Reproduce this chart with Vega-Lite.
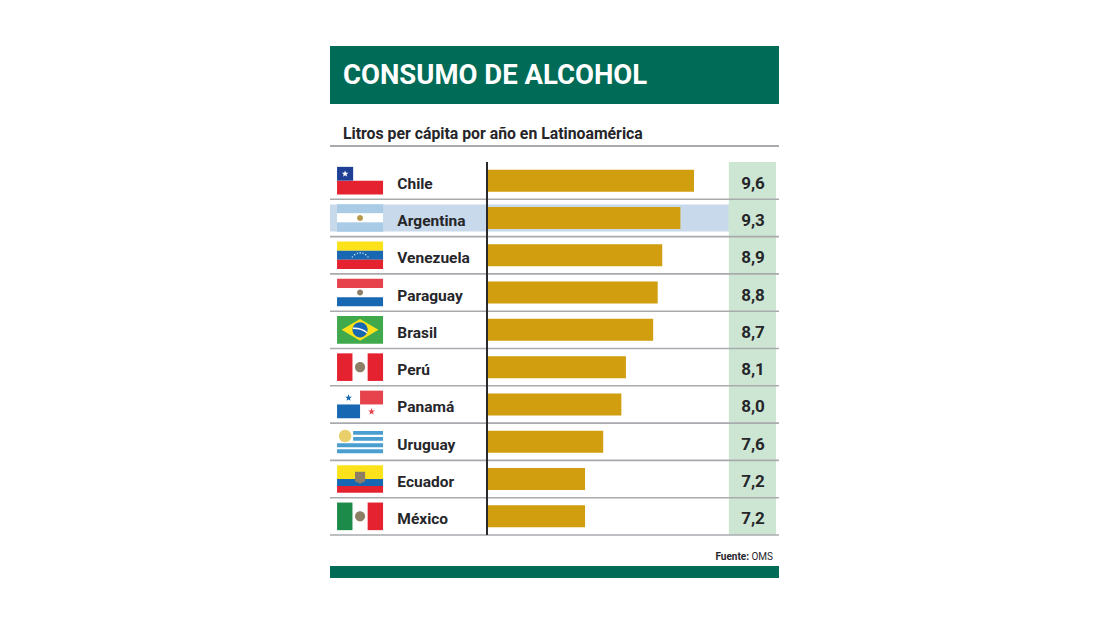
{
"$schema":"https://vega.github.io/schema/vega-lite/v6.json",
"background":"white",
"padding":{"left":329,"top":46,"right":0,"bottom":0},
"bounds":"flush",
"spacing":0,
"config":{"view":{"stroke":null},"concat":{"spacing":0}},
"datasets":{
"paises":[
{"country":"Chile","value":9.6,"label":"9,6"},
{"country":"Argentina","value":9.3,"label":"9,3"},
{"country":"Venezuela","value":8.9,"label":"8,9"},
{"country":"Paraguay","value":8.8,"label":"8,8"},
{"country":"Brasil","value":8.7,"label":"8,7"},
{"country":"Perú","value":8.1,"label":"8,1"},
{"country":"Panamá","value":8.0,"label":"8,0"},
{"country":"Uruguay","value":7.6,"label":"7,6"},
{"country":"Ecuador","value":7.2,"label":"7,2"},
{"country":"México","value":7.2,"label":"7,2"}],
"banderas":[
{"country":"Chile","part":"completa","tone":"blanco"},
{"country":"Chile","part":"mitad_inf","tone":"rojo"},
{"country":"Chile","part":"canton","tone":"azul_oscuro"},
{"country":"Chile","part":"estrella_chile","tone":"blanco"},
{"country":"Argentina","part":"tercio_sup","tone":"celeste"},
{"country":"Argentina","part":"tercio_med","tone":"blanco"},
{"country":"Argentina","part":"tercio_inf","tone":"celeste"},
{"country":"Argentina","part":"sol","tone":"oro"},
{"country":"Venezuela","part":"tercio_sup","tone":"amarillo"},
{"country":"Venezuela","part":"tercio_med","tone":"azul"},
{"country":"Venezuela","part":"tercio_inf","tone":"rojo"},
{"country":"Venezuela","part":"arco_estrellas","tone":"blanco"},
{"country":"Paraguay","part":"tercio_sup","tone":"rojo_claro"},
{"country":"Paraguay","part":"tercio_med","tone":"blanco"},
{"country":"Paraguay","part":"tercio_inf","tone":"azul"},
{"country":"Paraguay","part":"sol","tone":"gris_emblema"},
{"country":"Brasil","part":"completa","tone":"verde_claro"},
{"country":"Brasil","part":"rombo","tone":"amarillo"},
{"country":"Brasil","part":"globo","tone":"azul"},
{"country":"Brasil","part":"banda","tone":"blanco"},
{"country":"Perú","part":"completa","tone":"blanco"},
{"country":"Perú","part":"tercio_izq","tone":"rojo"},
{"country":"Perú","part":"tercio_der","tone":"rojo"},
{"country":"Perú","part":"emblema","tone":"gris_emblema"},
{"country":"Panamá","part":"completa","tone":"blanco"},
{"country":"Panamá","part":"cuad_der_sup","tone":"rojo_claro"},
{"country":"Panamá","part":"cuad_izq_inf","tone":"azul"},
{"country":"Panamá","part":"estrella_a","tone":"azul"},
{"country":"Panamá","part":"estrella_b","tone":"rojo_claro"},
{"country":"Uruguay","part":"completa","tone":"blanco"},
{"country":"Uruguay","part":"franjas","tone":"azul_uruguay"},
{"country":"Uruguay","part":"sol_uruguay","tone":"oro_claro"},
{"country":"Ecuador","part":"mitad_sup","tone":"amarillo"},
{"country":"Ecuador","part":"cuarto_tres","tone":"azul"},
{"country":"Ecuador","part":"cuarto_cuatro","tone":"rojo"},
{"country":"Ecuador","part":"escudo","tone":"gris_emblema"},
{"country":"México","part":"completa","tone":"blanco"},
{"country":"México","part":"tercio_izq","tone":"verde"},
{"country":"México","part":"tercio_der","tone":"rojo"},
{"country":"México","part":"emblema","tone":"gris_emblema"}]
},
"vconcat":[
{"width":449,"height":58,
 "data":{"values":[{"titulo":"CONSUMO DE ALCOHOL"}]},
 "layer":[
 {"mark":{"type":"rect","color":"#006b57"},"encoding":{"x":{"datum":0,"type":"quantitative","scale":{"domain":[0,1]},"axis":null},"x2":{"datum":1},"y":{"datum":0,"type":"quantitative","scale":{"domain":[0,1]},"axis":null},"y2":{"datum":1}}},
 {"mark":{"type":"text","align":"left","baseline":"middle","dx":13,"font":"Roboto","fontWeight":"bold","fontSize":27.5,"color":"white"},
  "encoding":{"x":{"datum":0,"type":"quantitative"},"y":{"datum":0.49,"type":"quantitative"},"text":{"field":"titulo"}}}
 ]},
{"width":449,"height":58,
 "data":{"values":[{"sub":"Litros per cápita por año en Latinoamérica"}]},
 "layer":[
 {"mark":{"type":"text","align":"left","baseline":"middle","dx":13,"font":"Roboto","fontWeight":"bold","fontSize":15.8,"color":"#26262a"},
  "encoding":{"x":{"datum":0,"type":"quantitative","scale":{"domain":[0,1]},"axis":null},"y":{"datum":0.517,"type":"quantitative","scale":{"domain":[1,0]},"axis":null},"text":{"field":"sub"}}},
 {"mark":{"type":"rule","color":"#a9aaae","strokeWidth":2},
  "encoding":{"y":{"datum":0.724,"type":"quantitative"}}}
 ]},
{"width":449,"height":373,
 "data":{"name":"paises"},
 "encoding":{"y":{"field":"country","type":"nominal","axis":null,"scale":{"type":"band","paddingInner":0,"paddingOuter":0,"domain":["Chile","Argentina","Venezuela","Paraguay","Brasil","Perú","Panamá","Uruguay","Ecuador","México"]}}},
 "layer":[
 {"transform":[{"filter":"datum.country==='Argentina'"}],
  "mark":{"type":"bar","size":27,"color":"#c7d9ea"},
  "encoding":{"x":{"datum":1.582,"type":"quantitative","axis":null,"scale":{"domain":[1.582,11.472],"nice":false,"zero":false}},"x2":{"datum":10.37}}},
 {"mark":{"type":"rect","color":"#cde6d3"},
  "encoding":{"y":null,"x":{"datum":10.37,"type":"quantitative"},"x2":{"datum":11.405}}},
 {"mark":{"type":"rule","color":"#a9aaae","strokeWidth":1.6},
  "encoding":{"y":{"field":"country","type":"nominal","bandPosition":1}}},
 {"mark":{"type":"bar","size":22,"color":"#d09e0e"},
  "encoding":{"x":{"field":"value","type":"quantitative"},"x2":{"datum":5.04}}},
 {"mark":{"type":"rule","color":"#2a2a2e","strokeWidth":1.6},
  "encoding":{"y":null,"x":{"datum":5.04,"type":"quantitative"}}},
 {"data":{"name":"banderas"},
  "mark":{"type":"point","filled":true,"opacity":1,"size":2116,"strokeWidth":0},
  "encoding":{"x":{"datum":2.244,"type":"quantitative"},
   "shape":{"field":"part","type":"nominal","legend":null,"scale":{
    "domain":["completa","mitad_sup","mitad_inf","tercio_sup","tercio_med","tercio_inf","tercio_izq","tercio_der","canton","estrella_chile","sol","emblema","arco_estrellas","rombo","globo","banda","cuad_der_sup","cuad_izq_inf","estrella_a","estrella_b","franjas","sol_uruguay","cuarto_tres","cuarto_cuatro","escudo"],
    "range":["M-1,-0.6H1V0.6H-1Z","M-1,-0.6H1V0H-1Z","M-1,0H1V0.6H-1Z","M-1,-0.6H1V-0.2H-1Z","M-1,-0.2H1V0.2H-1Z","M-1,0.2H1V0.6H-1Z","M-1,-0.6H-0.33V0.6H-1Z","M0.33,-0.6H1V0.6H0.33Z","M-1,-0.6H-0.3V0H-1Z",
     "M-0.65,-0.44L-0.61,-0.34L-0.51,-0.34L-0.59,-0.27L-0.56,-0.17L-0.65,-0.23L-0.74,-0.17L-0.71,-0.27L-0.79,-0.34L-0.69,-0.34Z",
     "M-0.13,0A0.13,0.13,0,1,1,0.13,0A0.13,0.13,0,1,1,-0.13,0Z",
     "M-0.22,0A0.22,0.22,0,1,1,0.22,0A0.22,0.22,0,1,1,-0.22,0Z",
     "M-0.36,0.05h0.05v0.05h-0.05ZM-0.26,-0.05h0.05v0.05h-0.05ZM-0.14,-0.11h0.05v0.05h-0.05ZM-0.02,-0.13h0.05v0.05h-0.05ZM0.1,-0.11h0.05v0.05h-0.05ZM0.22,-0.05h0.05v0.05h-0.05ZM0.32,0.05h0.05v0.05h-0.05Z",
     "M-0.8,0L0,-0.47L0.8,0L0,0.47Z",
     "M-0.33,0A0.33,0.33,0,1,1,0.33,0A0.33,0.33,0,1,1,-0.33,0Z",
     "M-0.3,-0.1Q0.05,-0.12,0.32,0.1L0.3,0.15Q0.05,-0.05,-0.32,-0.04Z",
     "M0,-0.6H1V0H0Z","M-1,0H0V0.6H-1Z",
     "M-0.5,-0.45L-0.46,-0.34L-0.35,-0.34L-0.44,-0.27L-0.41,-0.16L-0.5,-0.22L-0.59,-0.16L-0.56,-0.27L-0.65,-0.34L-0.54,-0.34Z",
     "M0.5,0.15L0.54,0.26L0.65,0.26L0.56,0.33L0.59,0.44L0.5,0.38L0.41,0.44L0.44,0.33L0.35,0.26L0.46,0.26Z",
     "M-0.3,-0.47H1V-0.3H-0.3ZM-0.3,-0.21H1V-0.04H-0.3ZM-1,0.07H1V0.24H-1ZM-1,0.33H1V0.5H-1Z",
     "M-0.92,-0.25A0.27,0.27,0,1,1,-0.38,-0.25A0.27,0.27,0,1,1,-0.92,-0.25Z",
     "M-1,0H1V0.3H-1Z","M-1,0.3H1V0.6H-1Z",
     "M-0.22,-0.32H0.22V0.1L0,0.2L-0.22,0.1Z"]}},
   "color":{"field":"tone","type":"nominal","legend":null,"scale":{
    "domain":["blanco","rojo","azul_oscuro","celeste","oro","amarillo","azul","rojo_claro","gris_emblema","verde_claro","azul_uruguay","oro_claro","verde"],
    "range":["#ffffff","#e5222f","#1f3f96","#a9cbe6","#b8994a","#fbe21a","#1767b3","#e6434d","#8d7f66","#3fa94b","#4a9fd0","#ead06a","#1c8a48"]}}}},
 {"mark":{"type":"text","align":"left","baseline":"middle","dy":3,"font":"Roboto","fontWeight":"bold","fontSize":15.5,"color":"#26262a"},
  "encoding":{"x":{"datum":3.065,"type":"quantitative"},"text":{"field":"country"}}},
 {"mark":{"type":"text","align":"center","baseline":"middle","dy":3,"font":"Roboto","fontWeight":"bold","fontSize":17,"color":"#26262a"},
  "encoding":{"x":{"datum":10.9,"type":"quantitative"},"text":{"field":"label"}}}
 ]},
{"width":449,"height":31,
 "data":{"values":[{"fuente":"Fuente:","origen":"OMS"}]},
 "layer":[
 {"mark":{"type":"text","align":"right","baseline":"middle","dx":-30,"font":"Roboto","fontWeight":"bold","fontSize":10,"color":"#26262a"},
  "encoding":{"x":{"datum":1,"type":"quantitative","scale":{"domain":[0,1]},"axis":null},"y":{"datum":0.7,"type":"quantitative","scale":{"domain":[1,0]},"axis":null},"text":{"field":"fuente"}}},
 {"mark":{"type":"text","align":"right","baseline":"middle","dx":-6,"font":"Roboto","fontSize":10,"color":"#26262a"},
  "encoding":{"x":{"datum":1,"type":"quantitative"},"y":{"datum":0.7,"type":"quantitative"},"text":{"field":"origen"}}}
 ]},
{"width":449,"height":12,
 "data":{"values":[{"banda":"pie"}]},
 "mark":{"type":"rect","color":"#006b57"},
 "encoding":{"x":{"datum":0,"type":"quantitative","scale":{"domain":[0,1]},"axis":null},"x2":{"datum":1},"y":{"datum":0,"type":"quantitative","scale":{"domain":[0,1]},"axis":null},"y2":{"datum":1}}}
]
}
